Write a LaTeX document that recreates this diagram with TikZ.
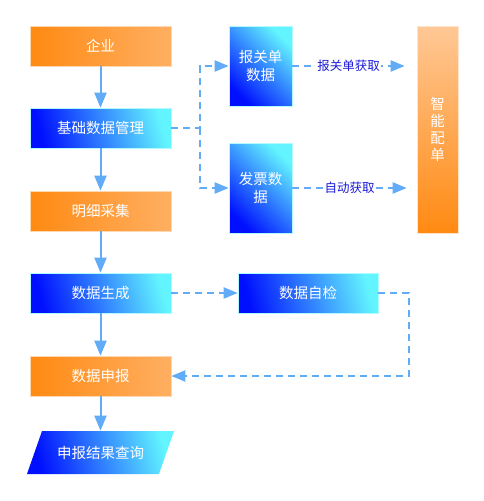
\documentclass[tikz,border=0pt]{standalone}
\usepackage{fontspec}
\newfontfamily\cjk{Noto Sans CJK SC}
\usepackage{tikz}
\usetikzlibrary{arrows.meta}
\definecolor{orgdark}{HTML}{FF8A12}
\definecolor{orglight}{HTML}{FFAF62}
\definecolor{orgpale}{HTML}{FFC896}
\definecolor{bluedark}{HTML}{0010FF}
\definecolor{bluelight}{HTML}{62F4FF}
\definecolor{arrowblue}{HTML}{62ABF6}
\definecolor{labelblue}{HTML}{1A1AD8}
\tikzset{
box/.style={
  rectangle,
  inner sep=0pt,
  align=center,
  text=white,
  line width=.6pt,
  font=\cjk\fontsize{14.5}{18}\selectfont
},
orgbox/.style={box, draw=orglight!50!white, left color=orgdark, right color=orglight},
bluebox/.style={box, draw=bluelight!50!white, bottom color=bluedark, top color=bluelight, shading angle=-75},
tallbox/.style={box, draw=bluelight!50!white, bottom color=bluedark, top color=bluelight, shading angle=-45},
flow/.style={arrowblue, line width=2pt, -{Triangle[length=15pt,width=12pt]}},
dashflow/.style={arrowblue, line width=2pt, dash pattern=on 7pt off 5pt, -{Triangle[length=14pt,width=11pt]}},
getlabel/.style={fill=white, text=labelblue, inner sep=1pt, font=\cjk\fontsize{12.5}{14}\selectfont}
}

\begin{document}
\begin{tikzpicture}[x=1pt,y=-1pt]
\useasboundingbox (0,0) rectangle (484,501);
% the left column
\node (qiye) [orgbox, minimum width=141pt, minimum height=40pt] at (100.5,46) {企业};
\node (jichu) [bluebox, minimum width=141pt, minimum height=40pt] at (100.5,128) {基础数据管理};
\node (mingxi) [orgbox, minimum width=141pt, minimum height=40pt] at (100.5,211) {明细采集};
\node (shengcheng) [bluebox, minimum width=141pt, minimum height=40pt] at (100.5,293) {数据生成};
\node (shenbao) [orgbox, minimum width=141pt, minimum height=40pt] at (100.5,376) {数据申报};
% the slanted box
\shade[bottom color=bluedark, top color=bluelight, shading angle=-75]
  (27,474) -- (42,431) -- (174,431) -- (159,474) -- cycle;
\node (chaxun) [box, minimum width=132pt, minimum height=43pt] at (100.5,452.5) {申报结果查询};
% the right part
\node (baoguan) [tallbox, minimum width=63pt, minimum height=80pt] at (260.5,66) {报关单\\数据};
\node (fapiao) [tallbox, minimum width=63pt, minimum height=90pt] at (260.5,188) {发票数\\据};
\node (zhineng) [box, draw=orgpale!50!white, top color=orgpale, bottom color=orgdark,
  minimum width=41pt, minimum height=207pt, font=\cjk\fontsize{14.5}{17}\selectfont] at (437.5,129.5) {智\\能\\配\\单};
\node (zijian) [bluebox, minimum width=140pt, minimum height=40pt] at (308,293) {数据自检};
% the arrows
\draw[flow] (qiye.south) -- (jichu.north);
\draw[flow] (jichu.south) -- (mingxi.north);
\draw[flow] (mingxi.south) -- (shengcheng.north);
\draw[flow] (shengcheng.south) -- (shenbao.north);
\draw[flow] (shenbao.south) -- (chaxun.north);
\coordinate (split) at (200,128);
\draw[dashflow] (jichu.east) -- (split) |- (baoguan.west);
\draw[dashflow] (split) |- (fapiao.west);
\draw[dashflow] (baoguan.east) -- ([xshift=-12pt]zhineng.west |- baoguan.east)
  node[midway, getlabel] {报关单获取};
\draw[dashflow] (fapiao.east) -- ([xshift=-10pt]zhineng.west |- fapiao.east)
  node[midway, getlabel] {自动获取};
\draw[dashflow] (shengcheng.east) -- (zijian.west);
\draw[dashflow] (zijian.east) -- ++(31,0) |- (shenbao.east);
\end{tikzpicture}
\end{document}
